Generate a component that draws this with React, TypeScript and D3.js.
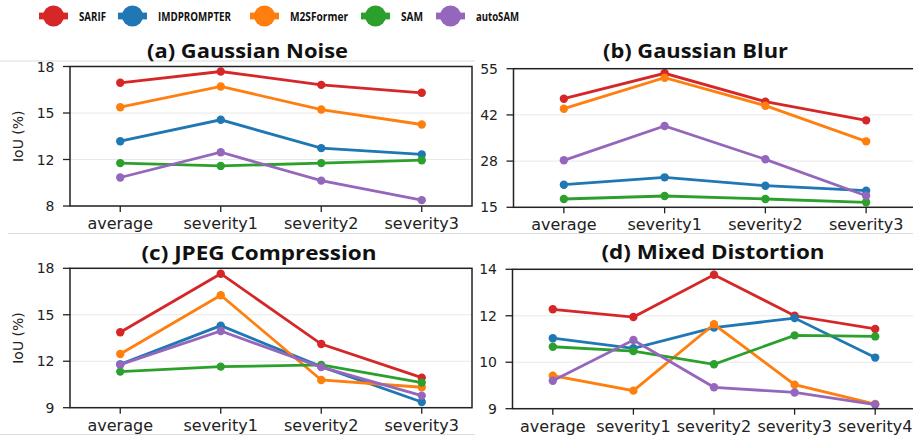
import React from 'react'
import * as d3 from 'd3'

const methods = ['SARIF', 'IMDPROMPTER', 'M2SFormer', 'SAM', 'autoSAM']
const colors = ['#d62728', '#1f77b4', '#ff7f0e', '#2ca02c', '#9467bd']

const levels3 = ['average', 'severity1', 'severity2', 'severity3']
const levels4 = ['average', 'severity1', 'severity2', 'severity3', 'severity4']

// rows follow the order of `methods`
const noiseValues = [
  [16.89, 17.66, 16.75, 16.21],
  [12.91, 14.37, 12.44, 12.01],
  [15.23, 16.64, 15.07, 14.05],
  [11.42, 11.23, 11.42, 11.62],
  [10.44, 12.16, 10.23, 8.9],
]
const noiseDomain = [8.5, 18]
const noiseTicks = ['8', '12', '15', '18']

const blurValues = [
  [46.34, 53.67, 45.48, 40.1],
  [21.52, 23.65, 21.23, 19.8],
  [43.46, 52.4, 44.32, 34.04],
  [17.4, 18.26, 17.4, 16.44],
  [28.56, 38.46, 28.85, 18.35],
]
const blurDomain = [15, 55]
const blurTicks = ['15', '28', '42', '55']

const jpegValues = [
  [13.87, 17.65, 13.11, 10.94],
  [11.8, 14.3, 11.65, 9.37],
  [12.47, 16.26, 10.79, 10.32],
  [11.33, 11.65, 11.76, 10.62],
  [11.78, 13.95, 11.62, 9.78],
]
const jpegDomain = [9, 18]
const jpegTicks = ['9', '12', '15', '18']

const mixedValues = [
  [12.45, 12.15, 13.79, 12.2, 11.69],
  [11.33, 10.94, 11.74, 12.11, 10.58],
  [9.88, 9.3, 11.87, 9.53, 8.78],
  [11.0, 10.83, 10.32, 11.44, 11.4],
  [9.68, 11.26, 9.43, 9.23, 8.76],
]
const mixedDomain = [8.6, 14]
const mixedTicks = ['9', '10', '12', '14']

const legendWidths = [27, 73, 58, 22, 43]

type Box = { left: number; right: number; top: number; bottom: number }

function Panel(props: {
  title: string
  titleX: number
  titleY: number
  titleLen: number
  cats: string[]
  values: number[][]
  domain: number[]
  tickLabels: string[]
  box: Box
  yLabel?: boolean
}) {
  const { title, titleX, titleY, titleLen, cats, values, domain, tickLabels, box, yLabel } = props
  const { left, right, top, bottom } = box
  const x = d3.scalePoint<string>().domain(cats).range([left, right]).padding(0.5)
  const y = d3.scaleLinear().domain(domain).range([bottom, top])
  const n = tickLabels.length
  const tickVals = tickLabels.map((_, i) => domain[0] + (i * (domain[1] - domain[0])) / (n - 1))
  const line = d3
    .line<number>()
    .x((_, i) => x(cats[i]) as number)
    .y(d => y(d))

  return (
    <g>
      <text
        x={titleX}
        y={titleY}
        textAnchor="middle"
        fontFamily="'Open Sans', sans-serif"
        fontWeight="bold"
        fontSize={19.5}
        textLength={titleLen}
        lengthAdjust="spacingAndGlyphs"
        fill="#111"
      >
        {title}
      </text>
      {tickVals.map((t, i) => (
        <line key={'g' + i} x1={left} x2={right} y1={y(t)} y2={y(t)} stroke="#e8e8e8" strokeWidth={1} />
      ))}
      {values.map((row, k) => (
        <g key={methods[k]}>
          <path d={line(row) || ''} fill="none" stroke={colors[k]} strokeWidth={2.8} />
          {row.map((v, i) => (
            <circle key={i} cx={x(cats[i])} cy={y(v)} r={4.2} fill={colors[k]} />
          ))}
        </g>
      ))}
      <rect x={left} y={top} width={right - left} height={bottom - top} fill="none" stroke="#222" strokeWidth={1.5} />
      {tickVals.map((t, i) => (
        <g key={'t' + i}>
          <line x1={left - 7} x2={left} y1={y(t)} y2={y(t)} stroke="#222" strokeWidth={1.3} />
          <text
            x={left - 15.5}
            y={y(t)}
            dy="0.36em"
            textAnchor="end"
            fontFamily="'DejaVu Sans', sans-serif"
            fontSize={14}
            fill="#222"
          >
            {tickLabels[i]}
          </text>
        </g>
      ))}
      {cats.map(c => (
        <g key={c}>
          <line x1={x(c)} x2={x(c)} y1={bottom} y2={bottom + 6} stroke="#222" strokeWidth={1.3} />
          <text
            x={x(c)}
            y={bottom + 23}
            textAnchor="middle"
            fontFamily="'DejaVu Sans', sans-serif"
            fontSize={16}
            fill="#222"
          >
            {c}
          </text>
        </g>
      ))}
      {yLabel && (
        <text
          transform={`translate(23, ${(top + bottom) / 2}) rotate(-90)`}
          textAnchor="middle"
          fontFamily="'DejaVu Sans', sans-serif"
          fontSize={14}
          fill="#222"
        >
          IoU (%)
        </text>
      )}
    </g>
  )
}

function Legend() {
  const starts = [39, 118, 250, 361, 436]
  return (
    <g>
      {methods.map((m, i) => (
        <g key={m}>
          <line x1={starts[i]} x2={starts[i] + 29} y1={16} y2={16} stroke={colors[i]} strokeWidth={6.8} />
          <circle cx={starts[i] + 14.5} cy={16} r={10.5} fill={colors[i]} />
          <text
            x={starts[i] + 40}
            y={20.7}
            fontFamily="'Open Sans', sans-serif"
            fontWeight="bold"
            fontSize={12.6}
            textLength={legendWidths[i]}
            lengthAdjust="spacingAndGlyphs"
            fill="#111"
          >
            {m}
          </text>
        </g>
      ))}
    </g>
  )
}

export default function App() {
  return (
    <div style={{ position: 'absolute', left: 0, top: 0 }}>
      <svg width={913} height={437} style={{ display: 'block', background: '#fff' }}>
        <line x1={0} x2={475} y1={61} y2={61} stroke="#dcdcdc" strokeWidth={1} />
        <line x1={8} x2={913} y1={233.5} y2={233.5} stroke="#dcdcdc" strokeWidth={1} />
        <line x1={0} x2={475} y1={434.5} y2={434.5} stroke="#dcdcdc" strokeWidth={1} />
        <Legend />
        <Panel
          title="(a) Gaussian Noise"
          titleX={247.5}
          titleY={57.5}
          titleLen={201}
          cats={levels3}
          values={noiseValues}
          domain={noiseDomain}
          tickLabels={noiseTicks}
          box={{ left: 70, right: 472, top: 66.5, bottom: 206 }}
          yLabel
        />
        <Panel
          title="(b) Gaussian Blur"
          titleX={695.5}
          titleY={57.5}
          titleLen={185}
          cats={levels3}
          values={blurValues}
          domain={blurDomain}
          tickLabels={blurTicks}
          box={{ left: 513.5, right: 916.5, top: 68.7, bottom: 207.3 }}
        />
        <Panel
          title="(c) JPEG Compression"
          titleX={259}
          titleY={259.5}
          titleLen={235}
          cats={levels3}
          values={jpegValues}
          domain={jpegDomain}
          tickLabels={jpegTicks}
          box={{ left: 70, right: 472, top: 268.3, bottom: 407.7 }}
          yLabel
        />
        <Panel
          title="(d) Mixed Distortion"
          titleX={713}
          titleY={259}
          titleLen={223}
          cats={levels4}
          values={mixedValues}
          domain={mixedDomain}
          tickLabels={mixedTicks}
          box={{ left: 512.5, right: 915.5, top: 269.3, bottom: 408.7 }}
        />
      </svg>
    </div>
  )
}
